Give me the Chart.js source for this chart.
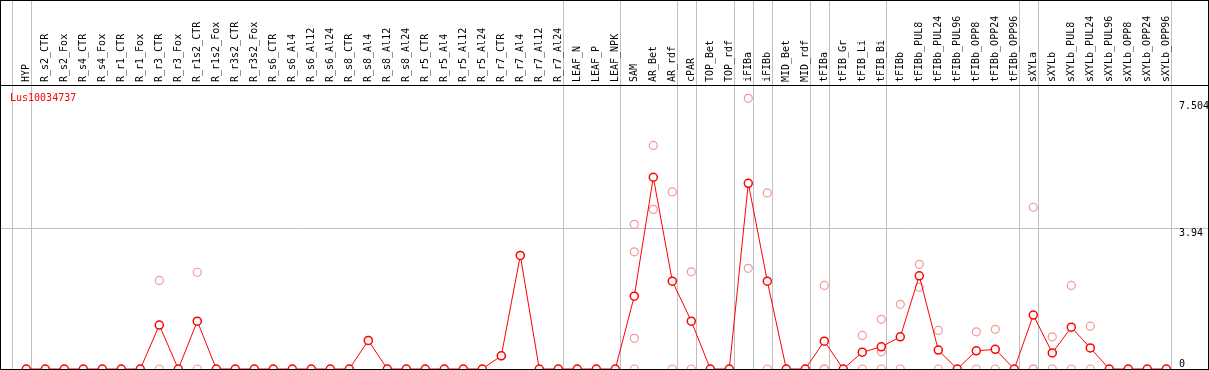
<!DOCTYPE html>
<html lang="en">
<head>
   <meta charset="UTF-8">
   <title>Lus10034737</title>
   <script src="https://cdn.jsdelivr.net/npm/chart.js@4/dist/chart.umd.min.js"></script>
   <style>
       body {
           margin: 0;
           background: #fff;
       }
       .frame {
           width: 1207px;
           height: 368px;
           border: 1px solid #000;
       }
       canvas {
           display: block;
       }
   </style>
</head>
<body>
   <div class="frame">
       <canvas id="chart" width="1207" height="368"></canvas>
   </div>

   <script>
       const categories = [
           'HYP',
           'R_s2_CTR', 'R_s2_Fox', 'R_s4_CTR', 'R_s4_Fox', 'R_r1_CTR', 'R_r1_Fox',
           'R_r3_CTR', 'R_r3_Fox', 'R_r1s2_CTR', 'R_r1s2_Fox', 'R_r3s2_CTR', 'R_r3s2_Fox',
           'R_s6_CTR', 'R_s6_Al4', 'R_s6_Al12', 'R_s6_Al24',
           'R_s8_CTR', 'R_s8_Al4', 'R_s8_Al12', 'R_s8_Al24',
           'R_r5_CTR', 'R_r5_Al4', 'R_r5_Al12', 'R_r5_Al24',
           'R_r7_CTR', 'R_r7_Al4', 'R_r7_Al12', 'R_r7_Al24',
           'LEAF_N', 'LEAF_P', 'LEAF_NPK',
           'SAM', 'AR_Bet', 'AR_rdf', 'cPAR', 'TOP_Bet', 'TOP_rdf',
           'iFIBa', 'iFIBb', 'MID_Bet', 'MID_rdf',
           'tFIBa', 'tFIB_Gr', 'tFIB_Li', 'tFIB_Bi', 'tFIBb',
           'tFIBb_PUL8', 'tFIBb_PUL24', 'tFIBb_PUL96', 'tFIBb_OPP8', 'tFIBb_OPP24', 'tFIBb_OPP96',
           'sXYLa', 'sXYLb',
           'sXYLb_PUL8', 'sXYLb_PUL24', 'sXYLb_PUL96', 'sXYLb_OPP8', 'sXYLb_OPP24', 'sXYLb_OPP96'
       ];

       // mean expression per sample (red line)
       const meanValues = [
           0,
           0, 0, 0, 0, 0, 0,
           1.23, 0, 1.34, 0, 0, 0,
           0, 0, 0, 0,
           0, 0.80, 0, 0,
           0, 0, 0, 0,
           0.37, 3.18, 0, 0,
           0, 0, 0,
           2.04, 5.37, 2.46, 1.34, 0, 0,
           5.20, 2.46, 0, 0,
           0.78, 0, 0.47, 0.62, 0.90,
           2.61, 0.53, 0, 0.51, 0.55, 0,
           1.51, 0.45,
           1.17, 0.59, 0, 0, 0, 0
       ];

       // individual replicates (pink circles)
       const replicates = [
           [],
           [], [], [], [], [], [],
           [2.48, 0], [], [2.71, 0], [], [], [],
           [], [], [], [],
           [], [0.80], [], [],
           [], [], [], [],
           [0.37], [3.18], [], [],
           [], [], [],
           [4.05, 3.28, 0.86, 0], [6.26, 4.47], [4.96, 0], [2.72, 0], [], [],
           [7.58, 2.82], [4.93, 0], [], [],
           [2.34, 0, 0], [], [0.94, 0], [1.39, 0.48, 0], [1.81, 0],
           [2.93, 2.29], [1.08, 0], [], [1.04, 0], [1.11, 0], [],
           [4.53, 0, 0], [0.90, 0],
           [2.34, 0], [1.20, 0], [], [], [], []
       ];

       // group separators sit just after these sample indices
       const separatorsAfter = [-1, 0, 28, 31, 34, 35, 37, 38, 39, 41, 42, 45, 52, 53, 60];

       const yTicks = [3.94, 7.504];
       const yZeroTick = [0];

       const geneName = 'Lus10034737';

       const GRID = '#c0c0c0';
       const FONT = { family: 'DejaVu Sans Mono', size: 10 };

       const sepValues = separatorsAfter.map(i => i + 0.25);

       // no extra room for overhanging labels
       function noPadding(s) {
           s.paddingLeft = 0;
           s.paddingRight = 0;
           s.paddingTop = 0;
           s.paddingBottom = 0;
       }

       const nameLabel = {
           id: 'nameLabel',
           afterDraw(chart) {
               const ctx = chart.ctx;
               const area = chart.chartArea;
               ctx.save();
               ctx.font = '10px "DejaVu Sans Mono"';
               ctx.fillStyle = '#ff0000';
               ctx.textBaseline = 'top';
               ctx.fillText(geneName, area.left + 9, area.top + 8);
               ctx.restore();
           }
       };

       new Chart(document.getElementById('chart'), {
           type: 'line',
           data: {
               datasets: [{
                   label: 'mean',
                   data: meanValues.map((v, i) => ({ x: i, y: v })),
                   borderColor: '#ff0000',
                   borderWidth: 1,
                   pointRadius: 4,
                   pointBorderWidth: 1.5,
                   pointBorderColor: '#ff0000',
                   pointBackgroundColor: '#ffffff',
                   tension: 0,
                   order: 0
               }, {
                   label: 'replicates',
                   type: 'scatter',
                   data: replicates.flatMap((reps, i) => reps.map(v => ({ x: i, y: v }))),
                   showLine: false,
                   pointRadius: 4,
                   pointBorderWidth: 1.2,
                   pointBorderColor: '#f09898',
                   pointBackgroundColor: 'rgba(0,0,0,0)',
                   order: 1
               }]
           },
           options: {
               responsive: false,
               animation: false,
               devicePixelRatio: 1,
               layout: { padding: 0, autoPadding: false },
               plugins: {
                   legend: { display: false },
                   tooltip: { enabled: false }
               },
               scales: {
                   x: {
                       type: 'linear',
                       position: 'top',
                       min: -1.3316,
                       max: 62.195,
                       afterBuildTicks: s => {
                           s.ticks = categories.map((c, i) => ({ value: i }))
                               .concat(sepValues.map(v => ({ value: v })));
                       },
                       afterFit: s => { s.height = 84; noPadding(s); },
                       grid: {
                           color: c => (c.tick && !Number.isInteger(c.tick.value)) ? GRID : 'rgba(0,0,0,0)',
                           lineWidth: 1,
                           drawTicks: true,
                           tickLength: 86
                       },
                       border: { display: true, color: '#000000', width: 1 },
                       ticks: {
                           autoSkip: false,
                           minRotation: 90,
                           maxRotation: 90,
                           mirror: true,
                           padding: -3,
                           color: '#000000',
                           font: FONT,
                           callback: v => Number.isInteger(v) ? categories[v] : ''
                       }
                   },
                   y: {
                       type: 'linear',
                       position: 'right',
                       min: 0,
                       max: 7.953,
                       afterBuildTicks: s => { s.ticks = yTicks.map(v => ({ value: v })); },
                       afterFit: s => { s.width = 0; noPadding(s); },
                       grid: {
                           color: c => (c.tick && c.tick.value === 3.94) ? GRID : 'rgba(0,0,0,0)',
                           drawTicks: false
                       },
                       border: { display: false },
                       ticks: {
                           mirror: true,
                           crossAlign: 'far',
                           align: 'start',
                           padding: 1,
                           color: '#000000',
                           font: FONT,
                           callback: v => String(v)
                       }
                   },
                   y2: {
                       type: 'linear',
                       position: 'right',
                       min: 0,
                       max: 7.953,
                       afterBuildTicks: s => { s.ticks = yZeroTick.map(v => ({ value: v })); },
                       afterFit: s => { s.width = 0; noPadding(s); },
                       grid: { display: false, drawTicks: false },
                       border: { display: false },
                       ticks: {
                           mirror: true,
                           crossAlign: 'far',
                           align: 'end',
                           padding: -23,
                           color: '#000000',
                           font: FONT,
                           callback: v => String(v)
                       }
                   }
               }
           },
           plugins: [nameLabel]
       });
   </script>
</body>
</html>
